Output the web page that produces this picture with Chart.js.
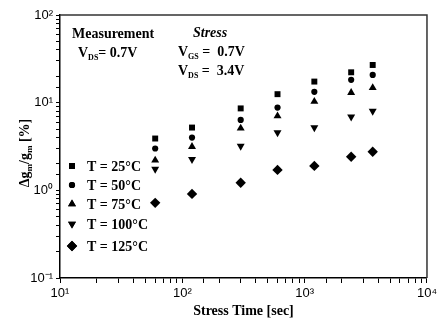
<!DOCTYPE html>
<html>
<head>
<meta charset="utf-8">
<script src="https://cdn.jsdelivr.net/npm/chart.js@4.4.1/dist/chart.umd.min.js"></script>
<style>
  html, body { margin: 0; padding: 0; background: #fff; }
  #wrap { width: 440px; height: 324px; }
</style>
</head>
<body>
<div id="wrap"><canvas id="chart" width="440" height="324"></canvas></div>
<script>
// stress time [sec]
const stressTime = [60, 120, 300, 600, 1200, 2400, 3600];
const seriesNames = ["T = 25°C", "T = 50°C", "T = 75°C", "T = 100°C", "T = 125°C"];
// delta gm / gm [%]
const dg25  = [3.9, 5.2, 8.6, 12.5, 17.4, 22.2, 26.9];
const dg50  = [3.0, 4.0, 6.35, 8.8, 13.3, 18.2, 20.7];
const dg75  = [2.2, 3.15, 5.1, 7.05, 10.3, 13.0, 14.8];
const dg100 = [1.75, 2.26, 3.2, 4.55, 5.2, 6.9, 8.0];
const dg125 = [0.72, 0.91, 1.22, 1.71, 1.9, 2.42, 2.76];
const xTickLabels = ["10¹", "10²", "10³", "10⁴"];
const yTickLabels = ["10⁻¹", "10⁰", "10¹", "10²"];

const SERIF = "'Liberation Serif', 'Times New Roman', serif";
const SANS = "'Liberation Sans', Arial, sans-serif";

const markers = [
  { pointStyle: "rect", radius: 4.2, rotation: 0 },
  { pointStyle: "circle", radius: 3.1, rotation: 0 },
  { pointStyle: "triangle", radius: 4.6, rotation: 0 },
  { pointStyle: "triangle", radius: 4.6, rotation: 180 },
  { pointStyle: "rectRot", radius: 5.2, rotation: 0 }
];
const values = [dg25, dg50, dg75, dg100, dg125];

function isDecade(v) {
  const l = Math.log10(v);
  return Math.abs(l - Math.round(l)) < 1e-6;
}

const datasets = values.map((vals, i) => ({
  label: seriesNames[i],
  data: stressTime.map((t, j) => ({ x: t, y: vals[j] })),
  showLine: false,
  pointStyle: markers[i].pointStyle,
  pointRadius: markers[i].radius,
  pointRotation: markers[i].rotation,
  backgroundColor: "#000",
  borderColor: "#000",
  borderWidth: 0
}));

// draws text pieces with sub/superscripts, returns end x
function rich(ctx, parts, x, y) {
  parts.forEach(p => {
    ctx.font = p.font;
    ctx.fillText(p.t, x, y + (p.dy || 0));
    x += ctx.measureText(p.t).width;
  });
  return x;
}

const extras = {
  id: "extras",
  afterDraw(chart) {
    const ctx = chart.ctx;
    const a = chart.chartArea;
    ctx.save();
    // top and right frame
    ctx.strokeStyle = "#333";
    ctx.lineWidth = 1.5;
    ctx.beginPath();
    ctx.moveTo(a.left, a.top);
    ctx.lineTo(a.right, a.top);
    ctx.lineTo(a.right, a.bottom);
    ctx.stroke();

    ctx.fillStyle = "#000";
    ctx.textBaseline = "alphabetic";
    const b = "bold 14px " + SERIF;
    const sub = "bold 8px " + SERIF;

    rich(ctx, [{ t: "Measurement", font: b }], 72, 38);
    rich(ctx, [{ t: "V", font: b }, { t: "DS", font: sub, dy: 3 }, { t: "= 0.7V", font: b }], 78, 57);
    rich(ctx, [{ t: "Stress", font: "italic bold 14px " + SERIF }], 193, 37);
    rich(ctx, [{ t: "V", font: b }, { t: "GS", font: sub, dy: 3 }, { t: " =  0.7V", font: b }], 178, 56);
    rich(ctx, [{ t: "V", font: b }, { t: "DS", font: sub, dy: 3 }, { t: " =  3.4V", font: b }], 178, 75);

    // legend
    const rowY = [166, 185, 204, 224, 246];
    seriesNames.forEach((name, i) => {
      Chart.helpers.drawPoint(ctx, {
        pointStyle: markers[i].pointStyle,
        radius: markers[i].radius,
        rotation: markers[i].rotation,
        borderWidth: 0
      }, 72, rowY[i]);
      ctx.fill();
      ctx.font = "bold 14px " + SERIF;
      ctx.textBaseline = "middle";
      ctx.fillText(name, 87, rowY[i] + 1);
    });

    // y axis title
    ctx.translate(24, 153);
    ctx.rotate(-Math.PI / 2);
    ctx.textBaseline = "alphabetic";
    const tb = "bold 14px " + SERIF;
    const ts = "bold 9px " + SERIF;
    const parts = [
      { t: "Δg", font: tb }, { t: "m", font: ts, dy: 3 },
      { t: "/g", font: tb }, { t: "m", font: ts, dy: 3 },
      { t: " [%]", font: tb }
    ];
    let w = 0;
    parts.forEach(p => { ctx.font = p.font; w += ctx.measureText(p.t).width; });
    rich(ctx, parts, -w / 2, 5);
    ctx.restore();
  }
};

new Chart(document.getElementById("chart"), {
  type: "scatter",
  data: { datasets },
  plugins: [extras],
  options: {
    responsive: false,
    animation: false,
    layout: { padding: { top: 15, right: 8, left: 0, bottom: 0 } },
    plugins: { legend: { display: false }, tooltip: { enabled: false } },
    scales: {
      x: {
        type: "logarithmic",
        min: 10,
        max: 10000,
        afterFit(s) { s.height = 46; },
        grid: { drawOnChartArea: false, drawTicks: true, tickLength: 5, tickColor: "#000" },
        border: { color: "#000", width: 1.5 },
        ticks: {
          autoSkip: false,
          maxRotation: 0,
          color: "#000",
          padding: 3,
          font: { family: SANS, size: 13 },
          callback: v => isDecade(v) ? xTickLabels[Math.round(Math.log10(v)) - 1] : ""
        },
        title: {
          display: true,
          text: "Stress Time [sec]",
          color: "#000",
          font: { family: SERIF, size: 14, weight: "bold" },
          padding: { top: 0, bottom: 4 }
        }
      },
      y: {
        type: "logarithmic",
        min: 0.1,
        max: 100,
        afterFit(s) { s.width = 60; },
        grid: { drawOnChartArea: false, drawTicks: true, tickLength: 4, tickColor: "#000" },
        border: { color: "#000", width: 1.5 },
        ticks: {
          autoSkip: false,
          color: "#000",
          padding: 3,
          font: { family: SANS, size: 13 },
          callback: v => isDecade(v) ? yTickLabels[Math.round(Math.log10(v)) + 1] : ""
        }
      }
    }
  }
});
</script>
</body>
</html>
